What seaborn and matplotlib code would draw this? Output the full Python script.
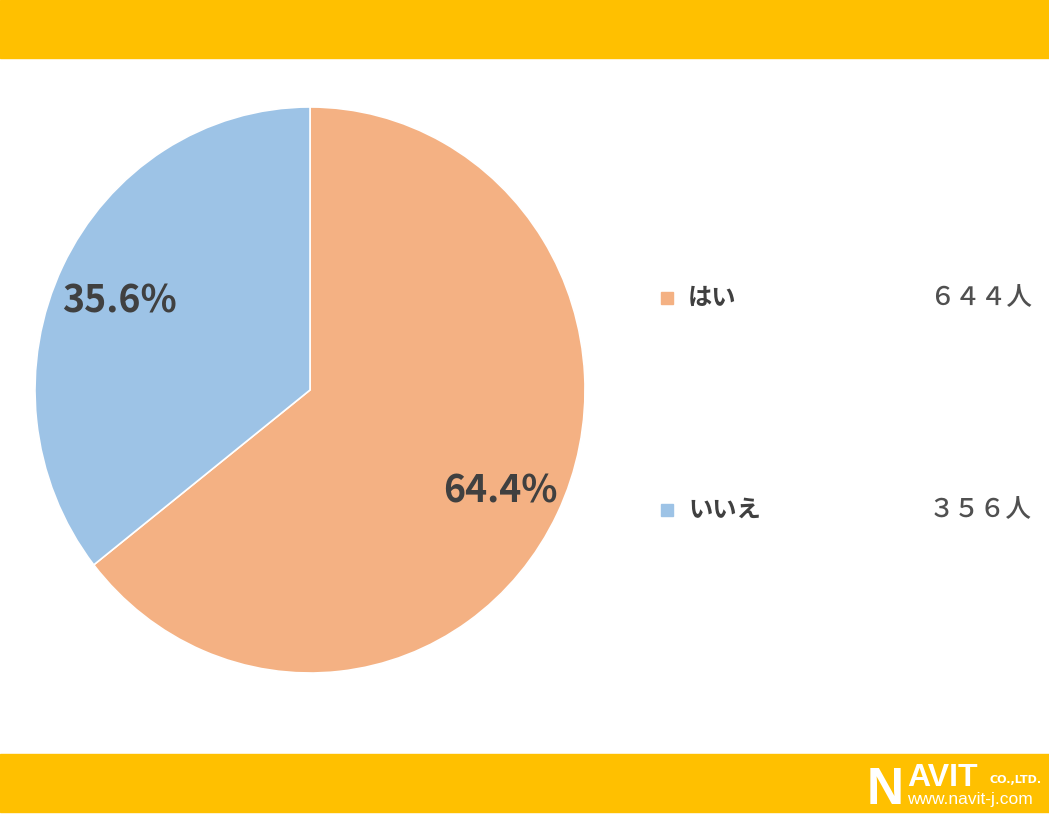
"""
Pie chart: はい / いいえ survey split with NAVIT header/footer bands.
Output: out.png (1049x815)
"""

import matplotlib
matplotlib.use("Agg")
import matplotlib.pyplot as plt
import matplotlib.transforms as mtransforms
from matplotlib.patches import Rectangle
import seaborn as sns

# =============================================================================
# DATA
# =============================================================================

answers      = ["はい", "いいえ"]
counts       = [644, 356]
count_labels = ["６４４人", "３５６人"]
wedge_colors = ["#F4B183", "#9DC3E6"]

# =============================================================================
# STYLE
# =============================================================================

sns.set_theme(style="white")
plt.rcParams["font.family"] = ["Noto Sans CJK JP", "DejaVu Sans"]

BAND_COLOR = "#FFC000"
TEXT_COLOR = "#404040"
W, H = 1049, 815

fig = plt.figure(figsize=(W / 100, H / 100), dpi=100)
fig.patch.set_facecolor("white")

# header / footer bands (figure coords)
fig.patches.append(Rectangle((0, 1 - 58 / H), 1, 58 / H,
                             transform=fig.transFigure, color=BAND_COLOR, zorder=0))
fig.patches.append(Rectangle((0, 3 / H), 1, 58 / H,
                             transform=fig.transFigure, color=BAND_COLOR, zorder=0))

# =============================================================================
# PIE
# =============================================================================

ax = fig.add_axes([35 / W, (H - 673) / H, 550 / W, 566 / H])
palette = sns.color_palette(wedge_colors)

wedges, _, autotexts = ax.pie(
    counts,
    colors=palette,
    startangle=90,
    counterclock=False,
    autopct="%.1f%%",
    pctdistance=0.77,
    wedgeprops={"edgecolor": "white", "linewidth": 1.2},
    textprops={"fontsize": 27, "fontweight": "bold", "color": TEXT_COLOR,
               "family": ["Noto Sans CJK JP", "DejaVu Sans"]},
)
# CJK font sits a little high when centred — nudge labels down a few px
nudge = mtransforms.ScaledTranslation(0, -6 / 100, fig.dpi_scale_trans)
for t in autotexts:
    t.set_transform(ax.transData + nudge)

ax.set_aspect("auto")
ax.set_xlim(-1, 1)
ax.set_ylim(-1, 1)

# =============================================================================
# LEGEND (right side)
# =============================================================================

legend_y = [298, 510]
for name, cnt, col, y in zip(answers, count_labels, wedge_colors, legend_y):
    fig.patches.append(Rectangle((661 / W, (H - y - 6) / H), 12 / W, 12 / H,
                                 transform=fig.transFigure, color=col))
    fig.text(688 / W, (H - y) / H, name, fontsize=17.5, fontweight="bold",
             color=TEXT_COLOR, va="center", ha="left")
    fig.text(1032 / W, (H - y) / H, cnt, fontsize=18.5, fontweight="medium",
             color="#505050", va="center", ha="right")

# =============================================================================
# FOOTER LOGO
# =============================================================================

fig.text(867 / W, (H - 804) / H, "N", fontsize=37, fontweight="bold",
         color="white", ha="left", va="baseline", family=["Liberation Sans"])
fig.text(907 / W, (H - 786) / H, "AVIT", fontsize=23, fontweight="bold",
         color="white", ha="left", va="baseline", family=["Liberation Sans"])
fig.text(990 / W, (H - 783) / H, "CO.,LTD.", fontsize=8, fontweight="bold",
         color="white", ha="left", va="baseline", family=["DejaVu Sans"])
fig.text(907 / W, (H - 804) / H, "www.navit-j.com", fontsize=12.5,
         color="white", ha="left", va="baseline", family=["Liberation Sans"])

fig.savefig("out.png", dpi=100, facecolor="white")
